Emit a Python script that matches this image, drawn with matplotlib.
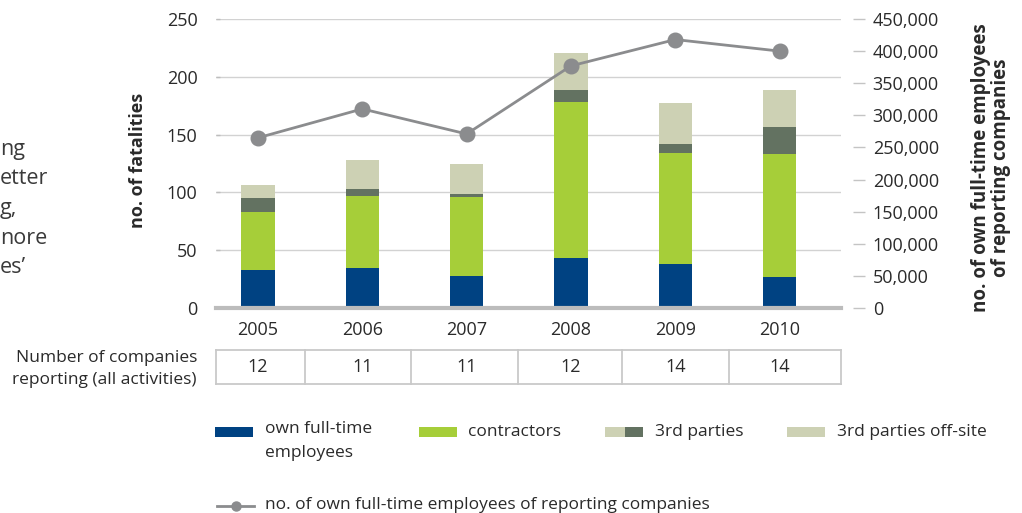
import matplotlib
matplotlib.use("Agg")
import matplotlib.pyplot as plt
from matplotlib.patches import Rectangle
from matplotlib.lines import Line2D
from matplotlib.ticker import FuncFormatter, MultipleLocator
from matplotlib.transforms import blended_transform_factory

plt.rcParams['font.family'] = ['Open Sans', 'DejaVu Sans']

# ---------------- data ----------------
years = ["2005", "2006", "2007", "2008", "2009", "2010"]
own_employees = [33, 35, 28, 43, 38, 27]
contractors = [50, 62, 68, 135, 96, 106]
third_parties = [12, 6, 3, 11, 8, 24]
third_parties_offsite = [11, 25, 26, 32, 35, 32]
employees_of_reporting = [265000, 310000, 271000, 377000, 418000, 400000]
companies_reporting = [12, 11, 11, 12, 14, 14]
side_text = ["ng", "etter", "g,", "nore", "es\u2019"]

# ---------------- style ----------------
C_BLUE = "#004282"
C_GREEN = "#a6ce39"
C_DARK = "#637261"
C_LIGHT = "#cdd1b4"
C_LINE = "#8b8c8e"
C_GRID = "#d2d2d2"
C_TEXT = "#2a2a2a"
W, H = 1022, 513

def fx(px):
    return px / W

def fy(py):
    return 1 - py / H

fig = plt.figure(figsize=(W / 100, H / 100), dpi=100)
ax = fig.add_axes([fx(215.7), fy(308), 625 / W, 289 / H])

x = list(range(len(years)))
bw = 0.32
b1 = own_employees
b2 = [a + b for a, b in zip(b1, contractors)]
b3 = [a + b for a, b in zip(b2, third_parties)]
ax.bar(x, own_employees, bw, color=C_BLUE, zorder=2)
ax.bar(x, contractors, bw, bottom=b1, color=C_GREEN, zorder=2)
ax.bar(x, third_parties, bw, bottom=b2, color=C_DARK, zorder=2)
ax.bar(x, third_parties_offsite, bw, bottom=b3, color=C_LIGHT, zorder=2)

ax.set_xlim(-0.405, 5.585)
ax.set_ylim(0, 250)
ax.yaxis.set_major_locator(MultipleLocator(50))
ax.set_axisbelow(True)
ax.grid(axis='y', color=C_GRID, lw=1.0)
for s in ['top', 'right', 'left']:
    ax.spines[s].set_visible(False)
ax.spines['bottom'].set_color('#bcbcbc')
ax.spines['bottom'].set_linewidth(3)
ax.spines['bottom'].set_zorder(3)
ax.set_xticks(x)
ax.set_xticklabels(years)
ax.tick_params(axis='x', length=0, pad=9.5, labelsize=13, labelcolor=C_TEXT)
ax.tick_params(axis='y', direction='in', length=3, width=1, color='#bdbdbd',
               pad=13, labelsize=13, labelcolor=C_TEXT)
ax.set_ylabel("no. of fatalities", fontsize=13, fontweight='bold', color=C_TEXT,
              ha='center', va='center')
ax.yaxis.set_label_coords(-0.1243, 0.512)

ax2 = ax.twinx()
ax2.plot(x, employees_of_reporting, color=C_LINE, lw=2, marker='o',
         markersize=10.5, markerfacecolor=C_LINE, markeredgecolor=C_LINE, zorder=5)
ax2.set_ylim(0, 450000)
ax2.yaxis.set_major_locator(MultipleLocator(50000))
ax2.yaxis.set_major_formatter(FuncFormatter(lambda v, p: f"{int(v):,}"))
for s in ['top', 'left', 'bottom']:
    ax2.spines[s].set_visible(False)
ax2.spines['right'].set_position(('outward', 8.6))
ax2.spines['right'].set_visible(False)
ax2.tick_params(axis='y', direction='out', length=8.6, width=1, color='#c4c4c4',
                pad=5.8, labelsize=13, labelcolor=C_TEXT)
ax2.set_ylabel("no. of own full-time employees\nof reporting companies", fontsize=13.5,
               fontweight='bold', color=C_TEXT, ha='center', va='center',
               multialignment='center', linespacing=0.95, rotation=90)
ax2.yaxis.set_label_coords((991 - 215.7) / 625, (308 - 168) / 289)

# ---------------- table ----------------
tr = blended_transform_factory(ax.transData, fig.transFigure)
bounds = [-0.405, 0.45, 1.47, 2.49, 3.49, 4.51, 5.585]
top, bot = fy(350), fy(384)
tcol = '#c9c9c9'
fig.add_artist(Line2D([bounds[0], bounds[-1]], [top, top], transform=tr, color=tcol, lw=1.3))
fig.add_artist(Line2D([bounds[0], bounds[-1]], [bot, bot], transform=tr, color=tcol, lw=1.3))
for b in bounds:
    fig.add_artist(Line2D([b, b], [top, bot], transform=tr, color=tcol, lw=1.3))
for i, n in enumerate(companies_reporting):
    fig.text(i, fy(367), str(n), transform=tr, ha='center', va='center',
             fontsize=13, color=C_TEXT)
fig.text(fx(197), fy(369), "Number of companies\nreporting (all activities)",
         ha='right', va='center', multialignment='right', fontsize=12.5,
         color=C_TEXT, linespacing=1.45)

# ---------------- legend ----------------
def patch(x0, x1, color):
    fig.add_artist(Rectangle((fx(x0), fy(437)), fx(x1) - fx(x0), fy(427) - fy(437),
                             transform=fig.transFigure, color=color, lw=0))

patch(215, 253, C_BLUE)
fig.text(fx(265), fy(421), "own full-time\nemployees", ha='left', va='top',
         fontsize=12.5, color=C_TEXT, linespacing=1.65)
patch(419, 457, C_GREEN)
fig.text(fx(468), fy(432), "contractors", ha='left', va='center', fontsize=12.5, color=C_TEXT)
patch(605, 625, C_LIGHT)
patch(625, 643, C_DARK)
fig.text(fx(655), fy(432), "3rd parties", ha='left', va='center', fontsize=12.5, color=C_TEXT)
patch(787, 825, C_LIGHT)
fig.text(fx(837), fy(432), "3rd parties off-site", ha='left', va='center', fontsize=12.5, color=C_TEXT)
fig.add_artist(Line2D([fx(217), fx(254)], [fy(506), fy(506)], transform=fig.transFigure,
                      color=C_LINE, lw=2, marker=None))
fig.add_artist(Line2D([fx(236)], [fy(506)], transform=fig.transFigure, color=C_LINE,
                      marker='o', markersize=6.5, lw=0))
fig.text(fx(265), fy(505), "no. of own full-time employees of reporting companies",
         ha='left', va='center', fontsize=12.5, color=C_TEXT)

# ---------------- cropped side text ----------------
for i, t in enumerate(side_text):
    fig.text(fx(0), fy(155 + i * 29.5), t, ha='left', va='baseline',
             fontsize=15.5, color='#3a3a3a')

fig.savefig("out.png", dpi=100)
